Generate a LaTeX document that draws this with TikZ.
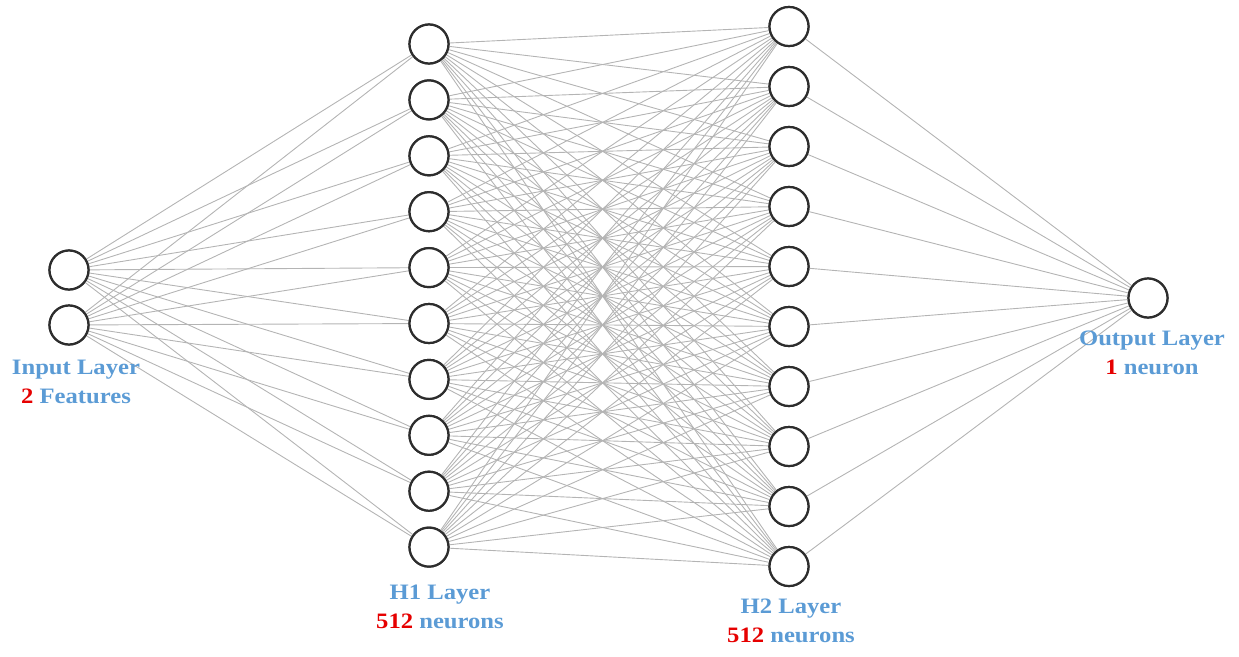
\documentclass[tikz,border=0pt]{standalone}
\usepackage{fontspec}
\setmainfont{Liberation Serif}
\newfontfamily\labelfont[FakeStretch=1.12]{Liberation Serif}
\definecolor{labelblue}{RGB}{91,155,213}
\definecolor{numred}{RGB}{230,0,0}
\definecolor{edgegray}{RGB}{180,180,180}
\definecolor{ringgray}{RGB}{45,45,45}
\begin{document}
\begin{tikzpicture}[x=1pt,y=-1pt,
  neuron/.style={circle,draw=ringgray,line width=2.2pt,fill=white,minimum size=39pt,inner sep=0pt},
  edge/.style={draw=edgegray,line width=0.9pt},
  layerlabel/.style={font=\labelfont\fontsize{22}{29}\selectfont\bfseries,text=labelblue,align=center,inner sep=0pt}]
\useasboundingbox (0,0) rectangle (1239,656);
% input layer
\node[neuron] (i1) at (69,270) {};
\node[neuron] (i2) at (69,325) {};
% first hidden layer
\foreach \k in {1,...,10}
  \node[neuron] (a\k) at (429,{44+55.9*(\k-1)}) {};
% second hidden layer
\foreach \k in {1,...,10}
  \node[neuron] (b\k) at (789,{26.5+60*(\k-1)}) {};
% output layer
\node[neuron] (o) at (1148,298) {};
% connections
\foreach \i in {1,2}
  \foreach \k in {1,...,10}
    \path[edge] (i\i) -- (a\k);
\foreach \j in {1,...,10}
  \foreach \k in {1,...,10}
    \path[edge] (a\j) -- (b\k);
\foreach \k in {1,...,10}
  \path[edge] (b\k) -- (o);
% redraw neurons above the connections
\node[neuron] at (i1) {};
\node[neuron] at (i2) {};
\foreach \k in {1,...,10} {
  \node[neuron] at (a\k) {};
  \node[neuron] at (b\k) {};
}
\node[neuron] at (o) {};
% labels
\node[layerlabel] (li) at (76,382) {Input Layer\\\textcolor{numred}{2} Features};
\node[layerlabel] (l1) at (440,607) {H1 Layer\\\textcolor{numred}{512} neurons};
\node[layerlabel] (l2) at (791,621) {H2 Layer\\\textcolor{numred}{512} neurons};
\node[layerlabel] (lo) at (1152,353) {Output Layer\\\textcolor{numred}{1} neuron};
\end{tikzpicture}
\end{document}
